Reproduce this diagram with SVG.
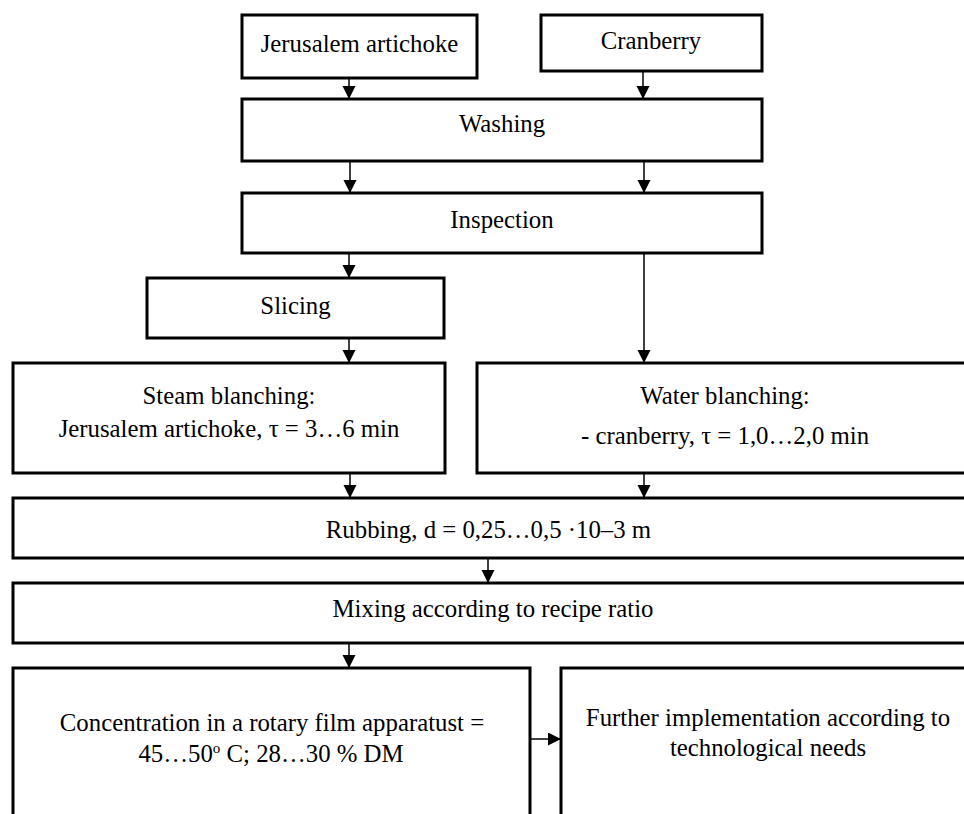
<svg xmlns="http://www.w3.org/2000/svg" width="964" height="814" viewBox="0 0 964 814">
<style>
.box{fill:#fff;stroke:#000;stroke-width:3}
.t{font-family:"Liberation Serif","Times New Roman",serif;font-size:24.8px;fill:#000;text-anchor:middle}
.c{stroke:#000;stroke-width:1.5;fill:none;marker-end:url(#ah)}
</style>
<defs>
<marker id="ah" markerUnits="userSpaceOnUse" markerWidth="13" markerHeight="14" refX="13" refY="6.5" orient="auto">
<path d="M0,0 L13,6.5 L0,13 z" fill="#000"/>
</marker>
</defs>
<rect width="964" height="814" fill="#fff"/>
<g id="connectors">
<line class="c" x1="349" y1="78" x2="349" y2="99"/>
<line class="c" x1="643" y1="71" x2="643" y2="99"/>
<line class="c" x1="350" y1="161" x2="350" y2="193"/>
<line class="c" x1="644" y1="161" x2="644" y2="193"/>
<line class="c" x1="349" y1="253" x2="349" y2="278"/>
<line class="c" x1="644" y1="253" x2="644" y2="363"/>
<line class="c" x1="349" y1="338" x2="349" y2="363"/>
<line class="c" x1="350" y1="473" x2="350" y2="498"/>
<line class="c" x1="644" y1="473" x2="644" y2="498"/>
<line class="c" x1="488" y1="558" x2="488" y2="583"/>
<line class="c" x1="349" y1="643" x2="349" y2="668"/>
<line class="c" x1="530" y1="739" x2="561" y2="739"/>
</g>
<g id="jerusalem">
<rect class="box" x="242" y="15" width="235" height="63"/>
<text class="t" x="359.5" y="52">Jerusalem artichoke</text>
</g>
<g id="cranberry">
<rect class="box" x="541" y="15" width="221" height="56"/>
<text class="t" x="651" y="49">Cranberry</text>
</g>
<g id="washing">
<rect class="box" x="242" y="99" width="520" height="62"/>
<text class="t" x="502" y="132">Washing</text>
</g>
<g id="inspection">
<rect class="box" x="242" y="193" width="520" height="60"/>
<text class="t" x="502" y="228">Inspection</text>
</g>
<g id="slicing">
<rect class="box" x="147" y="278" width="297" height="60"/>
<text class="t" x="295.5" y="314">Slicing</text>
</g>
<g id="steam">
<rect class="box" x="13" y="363" width="432" height="110"/>
<text class="t" x="229" y="404">Steam blanching:</text>
<text class="t" x="229" y="437">Jerusalem artichoke, τ = 3…6 min</text>
</g>
<g id="water">
<rect class="box" x="477" y="363" width="490" height="110"/>
<text class="t" x="725" y="404">Water blanching:</text>
<text class="t" x="725" y="444">- cranberry, τ = 1,0…2,0 min</text>
</g>
<g id="rubbing">
<rect class="box" x="13" y="498" width="954" height="60"/>
<text class="t" x="488.5" y="538">Rubbing, d = 0,25…0,5 ·10–3 m</text>
</g>
<g id="mixing">
<rect class="box" x="13" y="583" width="954" height="60"/>
<text class="t" x="493" y="617">Mixing according to recipe ratio</text>
</g>
<g id="concentration">
<rect class="box" x="13" y="668" width="517" height="170"/>
<text class="t" x="272" y="731">Concentration in a rotary film apparatust =</text>
<text class="t" x="271" y="762">45…50<tspan font-size="15" dy="-9">o</tspan><tspan dy="9"> C; 28…30 % DM</tspan></text>
</g>
<g id="further">
<rect class="box" x="561" y="668" width="410" height="170"/>
<text class="t" x="768" y="726">Further implementation according to</text>
<text class="t" x="768" y="756">technological needs</text>
</g>
</svg>
